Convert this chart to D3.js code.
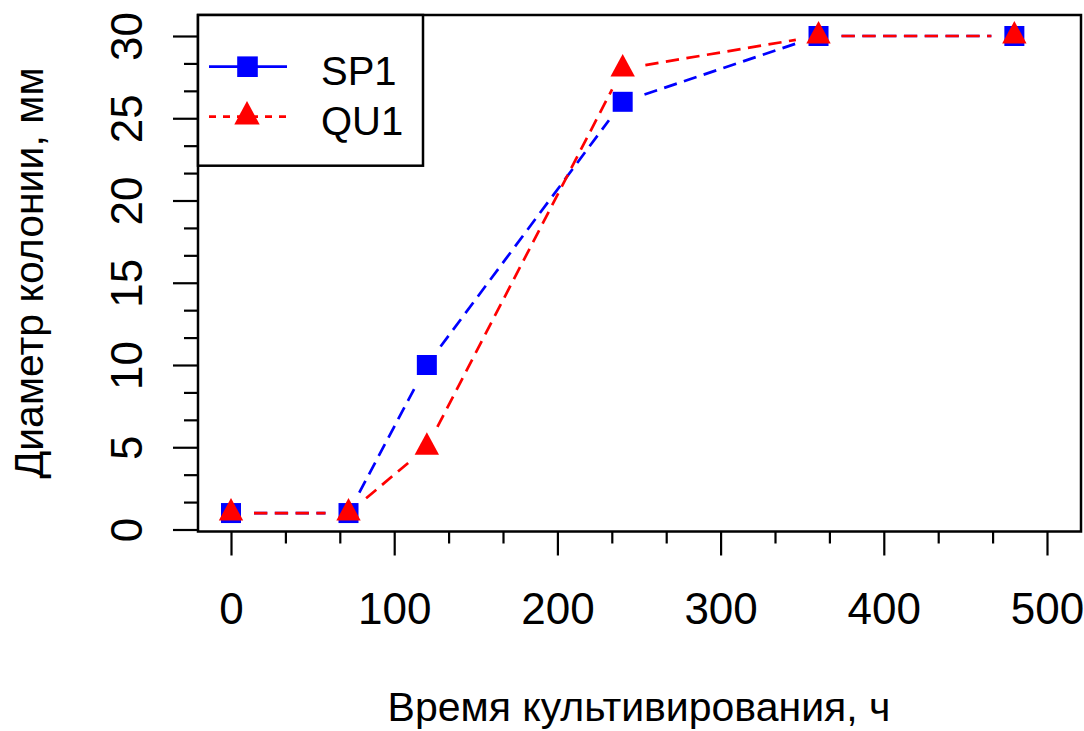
<!DOCTYPE html>
<meta charset="utf-8">
<style>
    body { margin: 0; background: #ffffff; }
    svg { display: block; font-family: "Liberation Sans", Arial, sans-serif; }
</style>

<script src="https://d3js.org/d3.v7.min.js"></script>

<svg id="chart" width="1084" height="731"></svg>

<script>

// Data

var hours = [0, 72, 120, 240, 360, 480];
var sp1 = [1, 1, 10, 26, 30, 30];
var qu1 = [1, 1, 5, 28, 30, 30];
var xTicks = [0, 100, 200, 300, 400, 500];
var yTicks = [0, 5, 10, 15, 20, 25, 30];
var seriesNames = ['SP1', 'QU1'];
var seriesColors = ['#0000ff', '#ff0000'];

var xLabel = 'Время культивирования, ч';
var yLabel = 'Диаметр колонии, мм';


// Setup

var svg = d3.select('svg#chart');

var box = { left: 198, right: 1081, top: 15, bottom: 531.5 };

var x = d3.scaleLinear().domain([0, 500]).range([231, 1047]);
var y = d3.scaleLinear().domain([0, 30]).range([529.5, 36]);

var gap = 23;            // type="b" style gap round each point
var squareSide = 20;


var trimmed = function (p0, p1) {
    // Returns the segment p0-p1 shortened by 'gap' at both ends.
    var dx = p1[0] - p0[0], dy = p1[1] - p0[1];
    var len = Math.sqrt(dx*dx + dy*dy);
    if (len <= 2 * gap) return null;
    var ux = dx / len, uy = dy / len;
    return [ [p0[0] + ux*gap, p0[1] + uy*gap], [p1[0] - ux*gap, p1[1] - uy*gap] ];
};


var trianglePath = function (cx, cy, k) {
    // Filled triangle with its centroid on the point.
    k = k || 1;
    return 'M ' + [cx, cy - 15 * k] + ' L ' + [cx + 12.2 * k, cy + 7.5 * k] + ' L ' + [cx - 12.2 * k, cy + 7.5 * k] + ' Z';
};


// Axes

var xAxis = svg.append('g')
    .attr('transform', 'translate(0,' + box.bottom + ')')
    .call(d3.axisBottom(x).tickValues(xTicks).tickSize(24));

var xMinor = svg.append('g')
    .attr('transform', 'translate(0,' + box.bottom + ')')
    .call(d3.axisBottom(x)
        .tickValues(d3.range(0, 501, 100 / 3).filter(function (v) { return Math.abs(v % 100) > 1 && Math.abs(v % 100) < 99; }))
        .tickSize(12).tickFormat(''));

var yAxis = svg.append('g')
    .attr('transform', 'translate(' + box.left + ',0)')
    .call(d3.axisLeft(y).tickValues(yTicks).tickSize(25));

var yMinor = svg.append('g')
    .attr('transform', 'translate(' + box.left + ',0)')
    .call(d3.axisLeft(y)
        .tickValues(d3.range(0, 30.01, 5 / 3).filter(function (v) { return Math.abs(v % 5) > 0.1 && Math.abs(v % 5) < 4.9; }))
        .tickSize(14).tickFormat(''));

[xAxis, xMinor, yAxis, yMinor].forEach(function (g) {
    g.select('.domain').remove();
    g.selectAll('line').attr('stroke', '#000').attr('stroke-width', 2.2);
});

xAxis.selectAll('text')
    .attr('y', 92)
    .attr('dy', null)
    .attr('fill', '#000')
    .style('font-size', '44px');

yAxis.selectAll('text')
    .attr('x', null)
    .attr('dy', null)
    .attr('text-anchor', 'middle')
    .attr('transform', 'translate(-56.5,0) rotate(-90)')
    .attr('fill', '#000')
    .style('font-size', '44px');


// Series (dashed segments with gaps, then markers)

var layer = svg.append('g');

[sp1, qu1].forEach(function (values, s) {
    var pts = hours.map(function (h, i) { return [x(h), y(values[i])]; });
    var segs = d3.pairs(pts).map(function (p) { return trimmed(p[0], p[1]); }).filter(Boolean);

    layer.append('g').selectAll('line')
        .data(segs)
        .enter().append('line')
        .attr('x1', function (d) { return d[0][0]; })
        .attr('y1', function (d) { return d[0][1]; })
        .attr('x2', function (d) { return d[1][0]; })
        .attr('y2', function (d) { return d[1][1]; })
        .attr('stroke', seriesColors[s])
        .attr('stroke-width', 2.7)
        .attr('stroke-dasharray', '13.3,7.5');

    if (s === 0) {
        layer.append('g').selectAll('rect')
            .data(pts)
            .enter().append('rect')
            .attr('x', function (d) { return d[0] - squareSide / 2; })
            .attr('y', function (d) { return d[1] - squareSide / 2; })
            .attr('width', squareSide)
            .attr('height', squareSide)
            .attr('fill', seriesColors[s]);
    } else {
        layer.append('g').selectAll('path')
            .data(pts)
            .enter().append('path')
            .attr('d', function (d) { return trianglePath(d[0], d[1]); })
            .attr('fill', seriesColors[s]);
    }
});


// Plot frame

svg.append('rect')
    .attr('x', box.left).attr('y', box.top)
    .attr('width', box.right - box.left).attr('height', box.bottom - box.top)
    .attr('fill', 'none').attr('stroke', '#000').attr('stroke-width', 2.5);


// Legend

var legend = svg.append('g');

legend.append('rect')
    .attr('x', box.left).attr('y', box.top)
    .attr('width', 225).attr('height', 150.7)
    .attr('fill', '#fff').attr('stroke', '#000').attr('stroke-width', 2.5);

var legendRows = [66.7, 116.7];

legendRows.forEach(function (ly, s) {
    legend.append('line')
        .attr('x1', 209).attr('x2', 287)
        .attr('y1', ly).attr('y2', ly)
        .attr('stroke', seriesColors[s])
        .attr('stroke-width', 2.7)
        .attr('stroke-dasharray', s === 0 ? null : '7,7');

    if (s === 0) {
        legend.append('rect')
            .attr('x', 247.5 - 10.3).attr('y', ly - 10.3)
            .attr('width', 20.6).attr('height', 20.6)
            .attr('fill', seriesColors[s]);
    } else {
        legend.append('path')
            .attr('d', trianglePath(247, ly, 1.04))
            .attr('fill', seriesColors[s]);
    }

    legend.append('text')
        .attr('x', 321).attr('y', ly + 18.3)
        .style('font-size', '40px')
        .text(seriesNames[s]);
});


// Axis titles

svg.append('text')
    .attr('x', 639).attr('y', 721)
    .attr('text-anchor', 'middle')
    .style('font-size', '41px')
    .text(xLabel);

svg.append('text')
    .attr('transform', 'translate(43,273) rotate(-90)')
    .attr('text-anchor', 'middle')
    .style('font-size', '41px')
    .text(yLabel);

</script>
